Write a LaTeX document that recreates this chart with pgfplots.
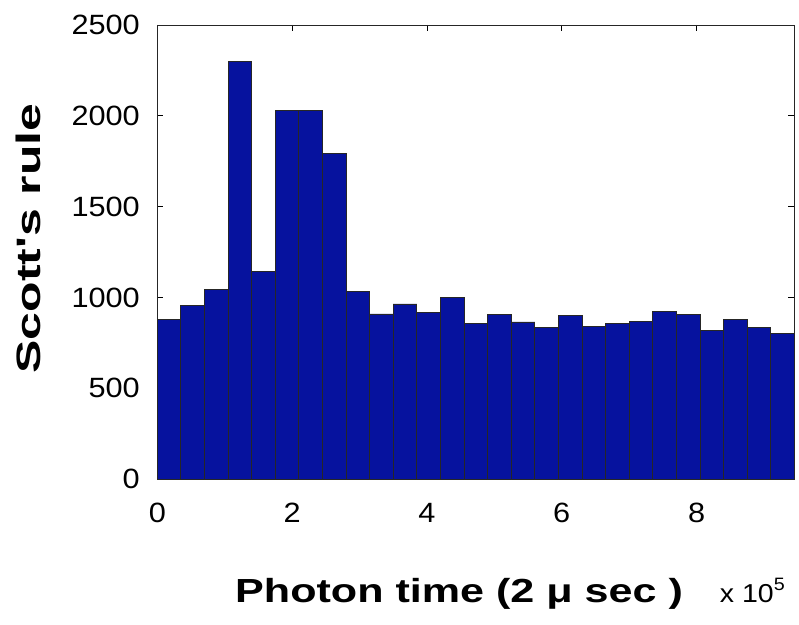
\documentclass[border=0pt]{standalone}
\usepackage{fontspec}
\setmainfont{Liberation Sans}
\newfontfamily\tickfont[FakeStretch=1.1]{Liberation Sans}
\usepackage{graphicx}
\usepackage{pgfplots}
\pgfplotsset{compat=1.18}
\definecolor{barblue}{RGB}{6,18,158}
\begin{document}
\begin{tikzpicture}
\begin{axis}[
  scale only axis,
  width=637bp, height=454bp,
  xmin=0, xmax=9.45, ymin=0, ymax=2500,
  xtick={0,2,4,6,8},
  ytick={0,500,1000,1500,2000,2500},
  tick align=inside,
  major tick length=6bp,
  tick style={black, line width=0.6bp},
  axis line style={black!85, line width=0.8bp},
  clip=false,
  /pgf/number format/assume math mode=true,
  /pgf/number format/1000 sep={},
  ticklabel style={font=\tickfont\fontsize{28}{28}\selectfont},
  yticklabel style={inner sep=0pt, xshift=-17.3bp},
  xticklabel style={inner sep=0pt, yshift=-24bp},
  xlabel={\resizebox{447.7bp}{\height}{Photon time (2 μ sec )}},
  xlabel style={font=\fontsize{33.5}{33.5}\selectfont\bfseries, at={(axis description cs:0.122,0)}, anchor=base west, yshift=-123bp, inner sep=0pt},
  ylabel={\resizebox{270bp}{\height}{Scott\textquotesingle s rule}},
  ylabel style={font=\fontsize{34}{34}\selectfont\bfseries, at={(axis description cs:0,0.53)}, anchor=center, yshift=129.3bp, inner sep=0pt},
]
\addplot[ybar interval, fill=barblue, draw=black!85, line width=0.8bp] coordinates {
(0.00,881) (0.35,956) (0.70,1044) (1.05,2298) (1.40,1142) (1.75,2030) (2.10,2030)
(2.45,1795) (2.80,1035) (3.15,909) (3.50,964) (3.85,916) (4.20,998) (4.55,857)
(4.90,907) (5.25,865) (5.60,833) (5.95,899) (6.30,842) (6.65,857) (7.00,866)
(7.35,923) (7.70,907) (8.05,819) (8.40,881) (8.75,833) (9.10,802) (9.45,802)
};
\node[anchor=base west, inner sep=0pt, font=\tickfont\fontsize{26}{26}\selectfont, yshift=-123bp] at (rel axis cs:0.883,0) {x 10\raisebox{12bp}{\fontsize{18}{18}\selectfont 5}};
\end{axis}
\path ([xshift=-157.3bp,yshift=-146bp]current axis.south west) rectangle ([xshift=4.7bp,yshift=25bp]current axis.north east);
\end{tikzpicture}
\end{document}
